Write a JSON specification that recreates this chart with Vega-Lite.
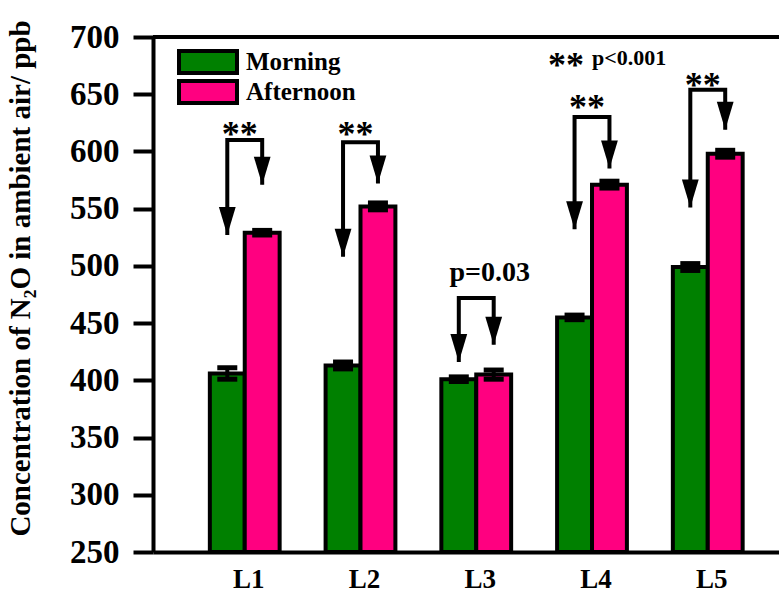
{
  "$schema": "https://vega.github.io/schema/vega-lite/v6.json",
  "autosize": "none",
  "width": 626,
  "height": 515,
  "padding": {"top": 37, "left": 153, "right": 0, "bottom": 40},
  "background": "white",
  "config": {
    "view": {"stroke": null},
    "font": "Liberation Serif",
    "axis": {"domainColor": "black", "domainWidth": 4, "tickColor": "black", "labelColor": "black", "labelFont": "Liberation Serif", "labelFontWeight": "bold", "grid": false}
  },
  "datasets": {
    "bars": [
      {"loc": "L1", "period": "Morning", "mean": 406, "lo": 401, "hi": 411},
      {"loc": "L1", "period": "Afternoon", "mean": 529, "lo": 527, "hi": 531},
      {"loc": "L2", "period": "Morning", "mean": 413, "lo": 410, "hi": 416},
      {"loc": "L2", "period": "Afternoon", "mean": 552, "lo": 549, "hi": 555},
      {"loc": "L3", "period": "Morning", "mean": 401, "lo": 399, "hi": 403},
      {"loc": "L3", "period": "Afternoon", "mean": 405, "lo": 401, "hi": 409},
      {"loc": "L4", "period": "Morning", "mean": 455, "lo": 453, "hi": 457},
      {"loc": "L4", "period": "Afternoon", "mean": 571, "lo": 568, "hi": 574},
      {"loc": "L5", "period": "Morning", "mean": 499, "lo": 496, "hi": 502},
      {"loc": "L5", "period": "Afternoon", "mean": 598, "lo": 595, "hi": 601}
    ],
    "brackets": [
      {"loc": "L1", "period": "Morning", "k": 1, "v": 527},
      {"loc": "L1", "period": "Morning", "k": 2, "v": 610},
      {"loc": "L1", "period": "Afternoon", "k": 3, "v": 610},
      {"loc": "L1", "period": "Afternoon", "k": 4, "v": 571},
      {"loc": "L2", "period": "Morning", "k": 1, "v": 508},
      {"loc": "L2", "period": "Morning", "k": 2, "v": 608},
      {"loc": "L2", "period": "Afternoon", "k": 3, "v": 608},
      {"loc": "L2", "period": "Afternoon", "k": 4, "v": 572},
      {"loc": "L3", "period": "Morning", "k": 1, "v": 416},
      {"loc": "L3", "period": "Morning", "k": 2, "v": 472},
      {"loc": "L3", "period": "Afternoon", "k": 3, "v": 472},
      {"loc": "L3", "period": "Afternoon", "k": 4, "v": 431},
      {"loc": "L4", "period": "Morning", "k": 1, "v": 532},
      {"loc": "L4", "period": "Morning", "k": 2, "v": 630},
      {"loc": "L4", "period": "Afternoon", "k": 3, "v": 630},
      {"loc": "L4", "period": "Afternoon", "k": 4, "v": 585},
      {"loc": "L5", "period": "Morning", "k": 1, "v": 551},
      {"loc": "L5", "period": "Morning", "k": 2, "v": 654},
      {"loc": "L5", "period": "Afternoon", "k": 3, "v": 654},
      {"loc": "L5", "period": "Afternoon", "k": 4, "v": 619}
    ],
    "stars": [
      {"loc": "L1", "label": "**", "v": 620},
      {"loc": "L2", "label": "**", "v": 620},
      {"loc": "L4", "label": "**", "v": 643},
      {"loc": "L5", "label": "**", "v": 662}
    ]
  },
  "layer": [
    {
      "data": {"name": "brackets"},
      "mark": {"type": "line", "color": "black", "strokeWidth": 4, "strokeJoin": "miter"},
      "encoding": {
        "x": {"field": "loc", "type": "nominal"},
        "xOffset": {"field": "period", "type": "nominal"},
        "y": {"field": "v", "type": "quantitative"},
        "detail": {"field": "loc"},
        "order": {"field": "k", "type": "quantitative"}
      }
    },
    {
      "data": {"name": "brackets"},
      "transform": [{"filter": "datum.k == 1 || datum.k == 4"}],
      "mark": {"type": "point", "shape": "M-0.6,-2L0.6,-2L0,0Z", "size": 784, "filled": true, "color": "black", "opacity": 1},
      "encoding": {
        "x": {"field": "loc", "type": "nominal"},
        "xOffset": {"field": "period", "type": "nominal"},
        "y": {"field": "v", "type": "quantitative"}
      }
    },
    {
      "data": {"name": "stars"},
      "mark": {"type": "text", "fontSize": 36, "fontWeight": "bold", "baseline": "alphabetic", "dy": 17, "dx": -5, "align": "center", "color": "black"},
      "encoding": {
        "x": {"field": "loc", "type": "nominal"},
        "y": {"field": "v", "type": "quantitative"},
        "text": {"field": "label"}
      }
    },
    {
      "data": {"values": [{"loc": "L3", "period": "Afternoon", "label": "p=0.03", "v": 494}]},
      "mark": {"type": "text", "fontSize": 28, "fontWeight": "bold", "baseline": "middle", "align": "center", "dx": -4, "color": "black"},
      "encoding": {
        "x": {"field": "loc", "type": "nominal"},
        "xOffset": {"field": "period", "type": "nominal"},
        "y": {"field": "v", "type": "quantitative"},
        "text": {"field": "label"}
      }
    },
    {
      "data": {"values": [{"loc": "L4", "label": "**", "v": 680}]},
      "mark": {"type": "text", "fontSize": 36, "fontWeight": "bold", "baseline": "alphabetic", "dy": 17, "dx": -26, "align": "center", "color": "black"},
      "encoding": {
        "x": {"field": "loc", "type": "nominal"},
        "y": {"field": "v", "type": "quantitative"},
        "text": {"field": "label"}
      }
    },
    {
      "data": {"values": [{"loc": "L4", "label": "p<0.001", "v": 682}]},
      "mark": {"type": "text", "fontSize": 22, "fontWeight": "bold", "baseline": "middle", "align": "left", "dx": 0, "color": "black"},
      "encoding": {
        "x": {"field": "loc", "type": "nominal"},
        "y": {"field": "v", "type": "quantitative"},
        "text": {"field": "label"}
      }
    },
    {
      "data": {"name": "bars"},
      "mark": {"type": "bar", "stroke": "black", "strokeWidth": 4},
      "encoding": {
        "x": {
          "field": "loc", "type": "nominal", "sort": ["L1", "L2", "L3", "L4", "L5"],
          "scale": {"type": "band", "paddingInner": 0.397, "paddingOuter": 0.4025, "align": 0.61},
          "axis": {"title": null, "labelAngle": 0, "labelAlign": "center", "labelBaseline": "top", "labelOffset": 4, "ticks": false, "labelFontSize": 27, "labelPadding": 14}
        },
        "xOffset": {"field": "period", "type": "nominal", "sort": ["Morning", "Afternoon"], "scale": {"domain": ["Morning", "Afternoon"], "paddingInner": 0, "paddingOuter": 0}},
        "y": {
          "field": "mean", "type": "quantitative",
          "scale": {"domain": [250, 700], "nice": false, "zero": false},
          "axis": {
            "title": "Concentration of N₂O in ambient air/ ppb",
            "values": [250, 300, 350, 400, 450, 500, 550, 600, 650, 700],
            "tickSize": 20, "tickWidth": 4, "labelFontSize": 33, "labelPadding": 14,
            "titleFont": "Liberation Serif", "titleFontSize": 29, "titleFontWeight": "bold", "titleColor": "black",
            "titleX": -133, "titleY": 241, "titleAngle": -90, "titleAlign": "center", "titleBaseline": "middle"
          }
        },
        "y2": {"datum": 250},
        "color": {
          "field": "period", "type": "nominal",
          "scale": {"domain": ["Morning", "Afternoon"], "range": ["#008000", "#ff0080"]},
          "legend": {
            "title": null, "orient": "none", "legendX": 24, "legendY": 10,
            "symbolType": "M-1,-0.38H1V0.38H-1Z", "symbolSize": 3364, "symbolStrokeColor": "black", "symbolStrokeWidth": 4, "symbolOpacity": 1,
            "clipHeight": 30, "rowPadding": 0, "padding": 0, "labelOffset": 7,
            "labelFont": "Liberation Serif", "labelFontSize": 25, "labelFontWeight": "bold", "labelColor": "black"
          }
        },
        "fillOpacity": {"value": 1}
      }
    },
    {
      "data": {"name": "bars"},
      "mark": {"type": "rule", "color": "black", "strokeWidth": 4},
      "encoding": {
        "x": {"field": "loc", "type": "nominal"},
        "xOffset": {"field": "period", "type": "nominal"},
        "y": {"field": "lo", "type": "quantitative"},
        "y2": {"field": "hi"}
      }
    },
    {
      "data": {"name": "bars"},
      "mark": {"type": "tick", "color": "black", "size": 20, "thickness": 5, "opacity": 1},
      "encoding": {
        "x": {"field": "loc", "type": "nominal"},
        "xOffset": {"field": "period", "type": "nominal"},
        "y": {"field": "lo", "type": "quantitative"}
      }
    },
    {
      "data": {"name": "bars"},
      "mark": {"type": "tick", "color": "black", "size": 20, "thickness": 5, "opacity": 1},
      "encoding": {
        "x": {"field": "loc", "type": "nominal"},
        "xOffset": {"field": "period", "type": "nominal"},
        "y": {"field": "hi", "type": "quantitative"}
      }
    },
    {
      "data": {"values": [{}]},
      "mark": {"type": "rule", "color": "black", "strokeWidth": 4},
      "encoding": {"y": {"datum": 700}}
    }
  ]
}
